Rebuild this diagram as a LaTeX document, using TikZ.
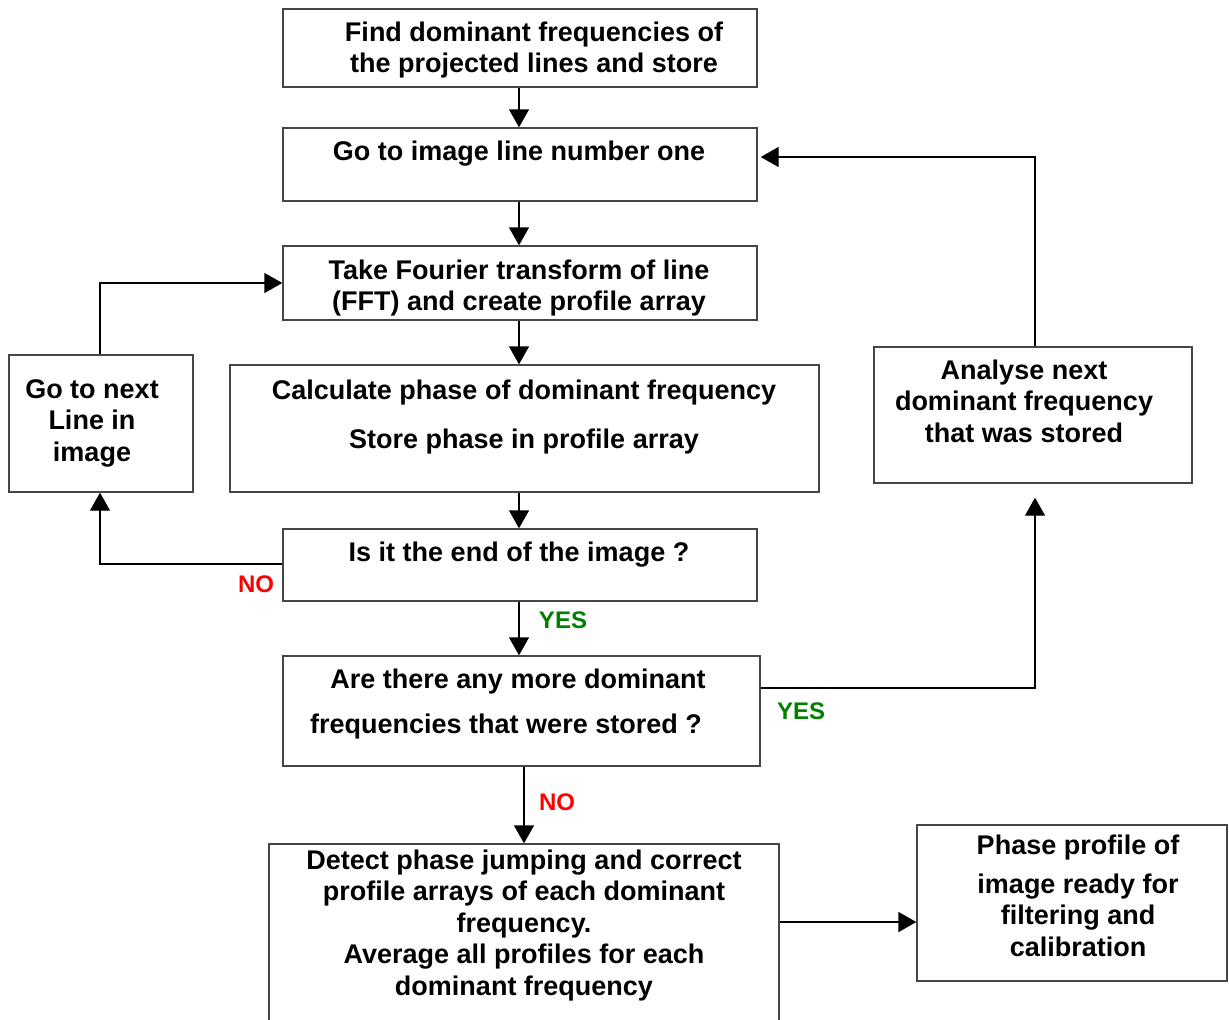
\documentclass[tikz,border=0pt]{standalone}
\usepackage{fontspec}
\setmainfont{Liberation Sans}
\usetikzlibrary{arrows.meta,fit,calc}
\definecolor{boxgray}{RGB}{70,70,70}
\definecolor{yesgreen}{RGB}{0,128,0}
\definecolor{nored}{RGB}{255,0,0}
\tikzset{
  box/.style={draw=boxgray, line width=0.7pt, inner sep=0pt},
  txt/.style={align=center, inner sep=0pt, font=\fontsize{13.5}{15.75}\selectfont\bfseries},
  lbl/.style={inner sep=0pt, font=\fontsize{12}{14}\selectfont\bfseries},
  arr/.style={-{Triangle[length=9pt,width=10pt]}, line width=0.7pt, draw=black},
}
\begin{document}
\begin{tikzpicture}[x=0.5pt,y=-0.5pt]
\clip (0,0) rectangle (1229,1019);
\fill[white] (0,0) rectangle (1229,1019);
% boxes
\node[box, fit={(283,9) (757,87)}] (b1) {};
\node[box, fit={(283,128) (757,201)}] (b2) {};
\node[box, fit={(283,246) (757,320)}] (b3) {};
\node[box, fit={(230,365) (819,492)}] (b4) {};
\node[box, fit={(9,355) (193,492)}] (b5) {};
\node[box, fit={(283,529) (757,601)}] (b6) {};
\node[box, fit={(283,656) (760,766)}] (b7) {};
\node[box, fit={(269,844) (779,1040)}] (b8) {};
\node[box, fit={(874,347) (1192,483)}] (b9) {};
\node[box, fit={(917,825) (1227,981)}] (b10) {};
% texts
\node[txt] (t1) at (534,50) {Find dominant frequencies of\\the projected lines and store};
\node[txt] (t2) at (519,154) {Go to image line number one};
\node[txt] (t3) at (519,288) {Take Fourier transform of line\\(FFT) and create profile array};
\node[txt] (t4) at (524,417) {Calculate phase of dominant frequency\\[8.75pt]Store phase in profile array};
\node[txt] (t5) at (92,423) {Go to next\\Line in\\image};
\node[txt] (t6) at (519,555) {Is it the end of the image ?};
\node[txt] (t7) at (518,704) {Are there any more dominant\\[6.75pt]frequencies that were stored ?\hspace*{12pt}};
\node[txt] (t8) at (524,925) {Detect phase jumping and correct\\profile arrays of each dominant\\frequency.\\Average all profiles for each\\dominant frequency};
\node[txt] (t9) at (1024,401) {Analyse next\\dominant frequency\\that was stored};
\node[txt] (t10) at (1078,896) {Phase profile of\\[3.5pt]image ready for\\filtering and\\calibration};
% labels
\node[lbl, text=nored] (no1) at (256,584) {NO};
\node[lbl, text=yesgreen] (yes1) at (563,620) {YES};
\node[lbl, text=yesgreen] (yes2) at (801,711) {YES};
\node[lbl, text=nored] (no2) at (557,802) {NO};
% connectors
\draw[arr] (b1.south -| 519,0) -- (b2.north -| 519,0);
\draw[arr] (b2.south -| 519,0) -- (b3.north -| 519,0);
\draw[arr] (b3.south -| 519,0) -- (b4.north -| 519,0);
\draw[arr] (b4.south -| 519,0) -- (b6.north -| 519,0);
\draw[arr] (b6.south -| 519,0) -- (b7.north -| 519,0);
\draw[arr] (b7.south -| 524,0) -- (b8.north -| 524,0);
\draw[arr, line width=1pt] (b8.east |- 0,922) -- (b10.west |- 0,922);
\draw[arr] (b6.west |- 0,564) -| (b5.south -| 100,0);
\draw[arr] (b5.north -| 100,0) |- (b3.west |- 0,283);
\draw[arr, shorten >=7pt] (b7.east |- 0,688) -| (b9.south -| 1035,0);
\draw[arr, shorten >=1.5pt] (b9.north -| 1035,0) |- (b2.east |- 0,157);
\end{tikzpicture}
\end{document}
